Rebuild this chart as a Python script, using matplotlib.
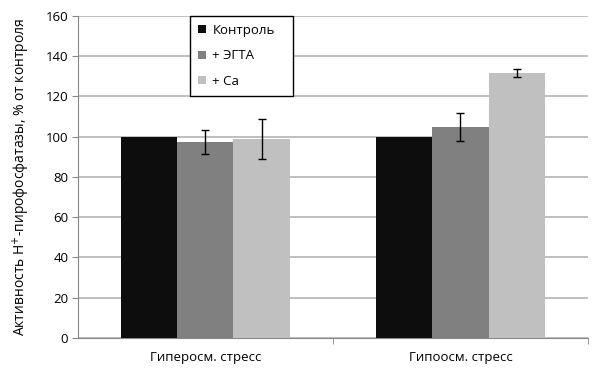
import matplotlib
matplotlib.use('Agg')
import matplotlib.pyplot as plt
import numpy as np

# Data
groups = ['Гиперосм. стресс', 'Гипоосм. стресс']
series = ['Контроль', '+ ЭГТА', '+ Ca']
control = [100, 100]
egta = [97.5, 105]
calcium = [99, 131.5]
egta_err = [6, 7]
calcium_err = [10, 2]

colors = ['#0d0d0d', '#808080', '#c0c0c0']

plt.rcParams['font.family'] = ['Open Sans', 'DejaVu Sans']

fig = plt.figure(figsize=(6.04, 3.80), dpi=100)
ax = fig.add_axes([0.129, 0.1105, 0.8445, 0.8475])

x = np.arange(len(groups))
w = 0.22
ax.bar(x - w, control, w, color=colors[0], label=series[0], zorder=3)
ax.bar(x, egta, w, color=colors[1], label=series[1], zorder=3)
ax.bar(x + w, calcium, w, color=colors[2], label=series[2], zorder=3)
ax.errorbar(x, egta, yerr=egta_err, fmt='none', ecolor='black',
            elinewidth=1, capsize=3, capthick=1, zorder=4)
ax.errorbar(x + w, calcium, yerr=calcium_err, fmt='none', ecolor='black',
            elinewidth=1, capsize=3, capthick=1, zorder=4)

ax.set_xlim(-0.5, 1.5)
ax.set_ylim(0, 160)
ax.set_yticks(range(0, 161, 20))
ax.yaxis.grid(True, color='#b4b4b4', linewidth=1.2, zorder=0)
ax.set_axisbelow(True)

ax.set_xticks(x)
ax.set_xticklabels(groups, fontsize=9.5)
ax.set_xticks([0.5, 1.5], minor=True)
ax.tick_params(axis='x', which='major', length=0, pad=9)
ax.tick_params(axis='x', which='minor', length=4, color='#888888')
ax.tick_params(axis='y', length=4, color='#888888', labelsize=9.5, pad=3)

for s in ['top', 'right']:
    ax.spines[s].set_visible(False)
for s in ['left', 'bottom']:
    ax.spines[s].set_color('#888888')

ax.set_ylabel('Активность H$^{+}$-пирофосфатазы, % от контроля', fontsize=10, labelpad=10)

leg = ax.legend(loc='upper left', bbox_to_anchor=(0.2196, 0.748, 0.202, 0.252),
                mode='expand', borderaxespad=0, fancybox=False, framealpha=1,
                edgecolor='black', fontsize=9.5, handlelength=0.6, handleheight=0.6,
                handletextpad=0.5, labelspacing=0.95, borderpad=0.6)
leg.get_frame().set_linewidth(1.0)

fig.savefig('out.png', dpi=100)
